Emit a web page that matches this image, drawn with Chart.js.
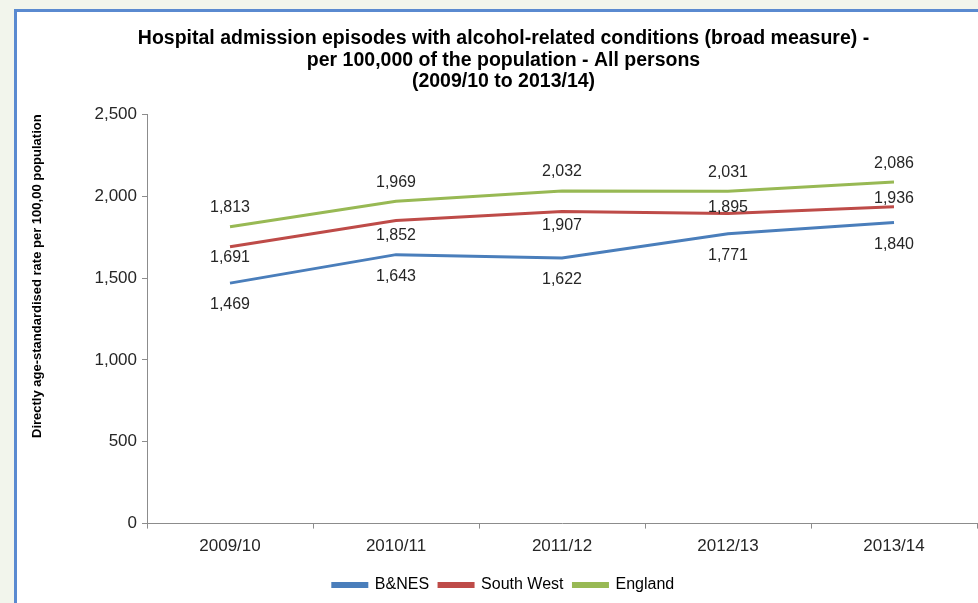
<!DOCTYPE html>
<html>
<head>
<meta charset="utf-8">
<script src="https://cdn.jsdelivr.net/npm/chart.js@4/dist/chart.umd.min.js"></script>
<style>
    body{
        margin: 0;
        background: #f2f5ec;
        width: 978px;
        height: 603px;
        overflow: hidden;
        position: relative;
    }
    #box{
        position: absolute;
        left: 14px;
        top: 9px;
        width: 970px;
        height: 600px;
        background: #ffffff;
        border-left: 3px solid #5a8ad0;
        border-top: 3px solid #5a8ad0;
    }
    #wrap{
        position: absolute;
        left: 0;
        top: 0;
        width: 961px;
        height: 591px;
    }
</style>
</head>
<body>
<div id="box">
    <div id="wrap"><canvas id="alcoholChart"></canvas></div>
</div>
<script>
// values
const periods = ["2009/10", "2010/11", "2011/12", "2012/13", "2013/14"];
const bnesData = [1469, 1643, 1622, 1771, 1840];
const southWestData = [1691, 1852, 1907, 1895, 1936];
const englandData = [1813, 1969, 2032, 2031, 2086];
const yTicks = [0, 500, 1000, 1500, 2000, 2500];

// vertical offset of each data label from its point (px)
const bnesLabelOffsets = [21, 22, 22, 22, 22];
const southWestLabelOffsets = [11, 15, 14, -6, -8];
const englandLabelOffsets = [-19, -19, -19, -19, -19];

const fontName = "'Liberation Sans', Arial, sans-serif";

const pointLabels = {
    id: "pointLabels",
    afterDatasetsDraw(chart){
        const ctx = chart.ctx;
        ctx.save();
        ctx.font = "16px " + fontName;
        ctx.fillStyle = "#262626";
        ctx.textAlign = "center";
        ctx.textBaseline = "middle";
        chart.data.datasets.forEach((ds, i) => {
            const meta = chart.getDatasetMeta(i);
            meta.data.forEach((pt, j) => {
                ctx.fillText(ds.data[j].toLocaleString("en-US"), pt.x, pt.y + ds.labelOffsets[j]);
            });
        });
        ctx.restore();
    }
};

function lineSet(label, data, color, offsets){
    return {
        label: label,
        data: data,
        borderColor: color,
        backgroundColor: color,
        borderWidth: 3,
        pointRadius: 0,
        tension: 0,
        labelOffsets: offsets
    };
}

new Chart("alcoholChart", {
    type: "line",
    data: {
        labels: periods,
        datasets: [
            lineSet("B&NES", bnesData, "#4a7ebb", bnesLabelOffsets),
            lineSet("South West", southWestData, "#be4b48", southWestLabelOffsets),
            lineSet("England", englandData, "#98b954", englandLabelOffsets)
        ]
    },
    options: {
        responsive: true,
        maintainAspectRatio: false,
        animation: false,
        layout: {
            padding: {left: 13, right: 1, top: 0, bottom: 0}
        },
        scales: {
            x: {
                offset: true,
                afterFit: axis => {
                    axis.height += 2;
                },
                grid: {
                    offset: true,
                    drawOnChartArea: false,
                    drawTicks: true,
                    tickLength: 5,
                    color: "#8c8c8c"
                },
                border: {color: "#8c8c8c"},
                ticks: {
                    color: "#262626",
                    padding: 8,
                    font: {family: fontName, size: 17}
                }
            },
            y: {
                min: 0,
                max: 2500,
                afterBuildTicks: axis => {
                    axis.ticks = yTicks.map(v => ({value: v}));
                },
                afterFit: axis => {
                    axis.width = 117;
                },
                grid: {
                    drawOnChartArea: false,
                    drawTicks: true,
                    tickLength: 5,
                    color: "#8c8c8c"
                },
                border: {color: "#8c8c8c"},
                ticks: {
                    color: "#262626",
                    padding: 5,
                    font: {family: fontName, size: 17},
                    callback: v => v.toLocaleString("en-US")
                },
                title: {
                    display: true,
                    text: "Directly age-standardised rate per 100,00 population",
                    align: "end",
                    color: "#000000",
                    padding: 0,
                    font: {family: fontName, size: 13, weight: "bold"}
                }
            }
        },
        plugins: {
            title: {
                display: true,
                text: [
                    "Hospital admission episodes with alcohol-related conditions (broad measure) -",
                    "per 100,000 of the population - All persons",
                    "(2009/10 to 2013/14)"
                ],
                color: "#000000",
                font: {family: fontName, size: 19.5, weight: "bold", lineHeight: 1.1},
                padding: {top: 16, bottom: 22}
            },
            legend: {
                display: true,
                position: "bottom",
                labels: {
                    boxWidth: 34,
                    boxHeight: 3,
                    padding: 10,
                    color: "#000000",
                    font: {family: fontName, size: 16}
                }
            },
            tooltip: {enabled: false}
        }
    },
    plugins: [pointLabels]
});
</script>
</body>
</html>
